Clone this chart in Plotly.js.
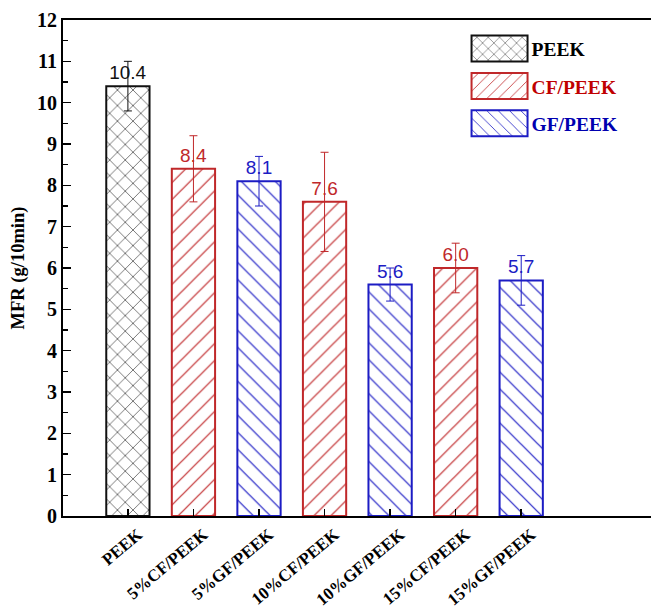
<!DOCTYPE html>
<html>
<head>
<meta charset="utf-8">
<script src="https://cdn.plot.ly/plotly-3.0.1.min.js"></script>
<style>html,body{margin:0;padding:0;background:#fff;overflow:hidden;}#chart{width:651px;height:613px;}</style>
</head>
<body>
<div id="chart"></div>
<script>
const categories = ["PEEK","5%CF/PEEK","5%GF/PEEK","10%CF/PEEK","10%GF/PEEK","15%CF/PEEK","15%GF/PEEK"];
const peekX = ["PEEK"];
const peekY = [10.4];
const peekErr = [0.6];
const cfX = ["5%CF/PEEK","10%CF/PEEK","15%CF/PEEK"];
const cfY = [8.4, 7.6, 6.0];
const cfErr = [0.8, 1.2, 0.6];
const gfX = ["5%GF/PEEK","10%GF/PEEK","15%GF/PEEK"];
const gfY = [8.1, 5.6, 5.7];
const gfErr = [0.6, 0.4, 0.6];
const yTicks = [0,1,2,3,4,5,6,7,8,9,10,11,12];

const RED = "#c0282a", BLUE = "#1c1cc4", BLACK = "#111111";

function mk(name, x, y, err, color, shape, legendColor) {
  return {
    type: "bar", name: '<b><span style="color:' + legendColor + '">' + name + '</span></b>',
    legendgroup: name,
    x: x, y: y, width: 0.66,
    marker: {color: "#ffffff", line: {color: color, width: 2},
      pattern: {shape: shape, fgcolor: color, bgcolor: "#ffffff", size: shape === "x" ? 11 : 12, solidity: 0.1}},
    error_y: {type: "data", array: err, visible: true, color: color, thickness: 1, width: 4},
    text: y.map(v => v.toFixed(1)), textposition: "outside",
    textfont: {family: "Liberation Sans, Arial", size: 19, color: color},
    cliponaxis: false
  };
}

const data = [
  mk("PEEK", peekX, peekY, peekErr, BLACK, "x", "#000"),
  mk("CF/PEEK", cfX, cfY, cfErr, RED, "/", "#c00000"),
  mk("GF/PEEK", gfX, gfY, gfErr, BLUE, "\\", "#0000b0")
];

const layout = {
  width: 651, height: 613,
  margin: {l: 63, r: 0, t: 20, b: 97, pad: 0},
  paper_bgcolor: "#ffffff", plot_bgcolor: "#ffffff",
  barmode: "overlay", showlegend: true,
  legend: {x: 0.688, y: 0.981, xanchor: "left", yanchor: "top",
    font: {family: "Liberation Serif, Times New Roman", size: 19.5, color: "#000"},
    bgcolor: "rgba(0,0,0,0)", tracegroupgap: 9, itemwidth: 54},
  xaxis: {type: "category", categoryorder: "array", categoryarray: categories,
    range: [-0.99, 7.98], showline: true, linecolor: "#000", linewidth: 2, mirror: true,
    ticks: "inside", ticklen: 7, tickcolor: "#000", tickwidth: 1.5, tickangle: -40,
    ticklabelshift: 10,
    tickfont: {family: "Liberation Serif, Times New Roman", size: 17, color: "#000", weight: "bold"},
    showgrid: false, zeroline: false, automargin: false},
  yaxis: {range: [0, 12], tickvals: yTicks, ticktext: yTicks.map(v => "<b>" + v + "</b>"),
    showline: true, linecolor: "#000", linewidth: 2, mirror: false,
    ticks: "inside", ticklen: 8, tickcolor: "#000", tickwidth: 1.5,
    minor: {dtick: 0.5, ticks: "inside", ticklen: 5, tickcolor: "#000", tickwidth: 1.5},
    tickfont: {family: "Liberation Serif, Times New Roman", size: 20, color: "#000"},
    title: {text: "<b>MFR (g/10min)</b>", font: {family: "Liberation Serif, Times New Roman", size: 18.5, color: "#000"}, standoff: 8},
    showgrid: false, zeroline: false, automargin: false}
};

Plotly.newPlot("chart", data, layout, {displayModeBar: false, staticPlot: true}).then(gd => {
  document.querySelectorAll(".legendpoints path").forEach(p => {
    p.setAttribute("d", "M28,13H-28V-13H28Z");
  });
});
</script>
</body>
</html>
